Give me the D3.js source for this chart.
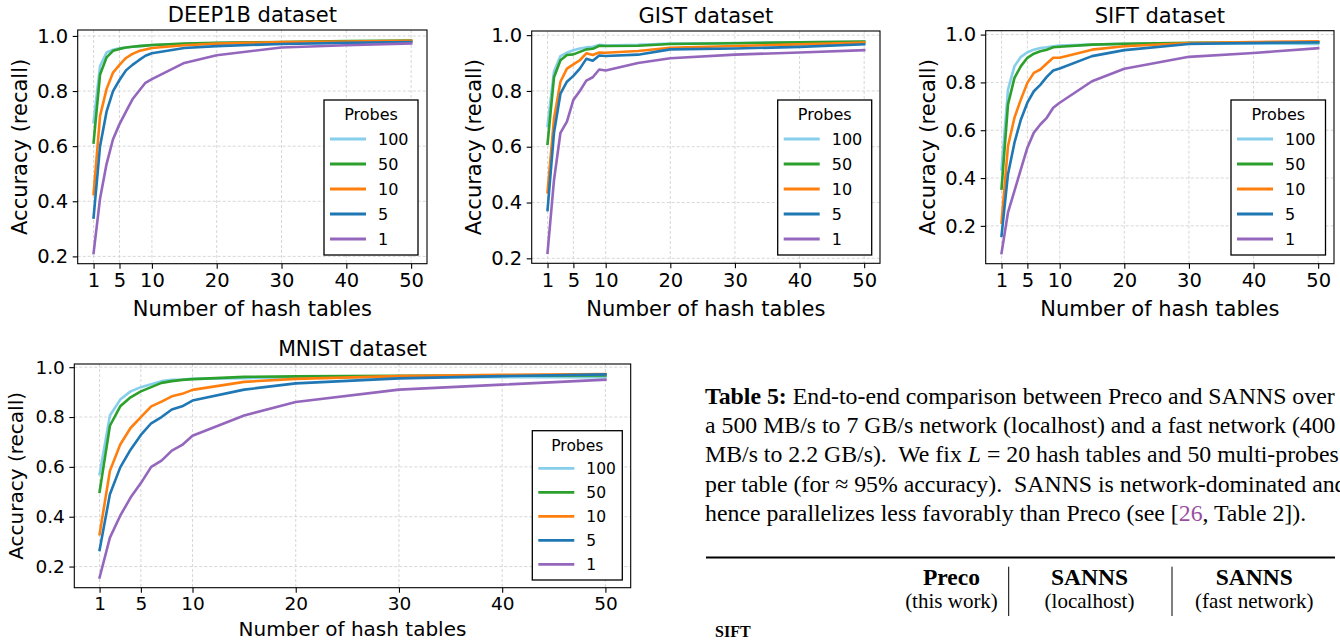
<!DOCTYPE html>
<head>
<meta charset="utf-8">
<style>
  body { margin: 0; background: #fff; }
  svg { display: block; font-family: "DejaVu Sans", sans-serif; }
  .grid line { stroke: #cdcdcd; stroke-width: 0.8; stroke-dasharray: 3,2; }
  .series { fill: none; stroke-width: 2.6; stroke-linejoin: round; stroke-linecap: square; }
  .caption { font-family: "Liberation Serif", "Times New Roman", serif; fill: #000; }
</style>
</head>
<body>
<svg width="1340" height="640"></svg>
<script src="https://d3js.org/d3.v7.min.js"></script>
<script>
// x positions shared by every curve
var hashTables = [1, 2, 3, 4, 5, 6, 7, 8, 9, 10, 15, 20, 30, 40, 50];
var xTicks = [1, 5, 10, 20, 30, 40, 50];
var yTicks = [0.2, 0.4, 0.6, 0.8, 1.0];
var probeLabels = ["100", "50", "10", "5", "1"];
var probeColors = ["#87ceeb", "#2ca02c", "#ff7f0e", "#1f77b4", "#9467bd"];

// DEEP1B
var deepP100 = [0.686, 0.891, 0.94, 0.95, 0.955, 0.958, 0.961, 0.963, 0.965, 0.967, 0.971, 0.974, 0.977, 0.979, 0.981];
var deepP50  = [0.613, 0.86, 0.922, 0.946, 0.953, 0.958, 0.961, 0.963, 0.965, 0.967, 0.972, 0.975, 0.978, 0.981, 0.983];
var deepP10  = [0.426, 0.71, 0.807, 0.867, 0.895, 0.92, 0.935, 0.945, 0.951, 0.956, 0.966, 0.972, 0.978, 0.980, 0.982];
var deepP5   = [0.341, 0.60, 0.725, 0.80, 0.84, 0.875, 0.895, 0.912, 0.928, 0.937, 0.956, 0.963, 0.971, 0.975, 0.978];
var deepP1   = [0.212, 0.41, 0.535, 0.625, 0.68, 0.725, 0.77, 0.80, 0.83, 0.843, 0.902, 0.93, 0.958, 0.966, 0.973];

// GIST
var gistP100 = [0.675, 0.87, 0.925, 0.937, 0.946, 0.952, 0.956, 0.958, 0.965, 0.963, 0.965, 0.97, 0.972, 0.974, 0.976];
var gistP50  = [0.61, 0.849, 0.91, 0.929, 0.931, 0.94, 0.949, 0.951, 0.962, 0.961, 0.962, 0.968, 0.971, 0.974, 0.977];
var gistP10  = [0.437, 0.70, 0.833, 0.88, 0.895, 0.91, 0.935, 0.929, 0.938, 0.937, 0.943, 0.955, 0.961, 0.967, 0.973];
var gistP5   = [0.373, 0.65, 0.79, 0.833, 0.854, 0.88, 0.915, 0.908, 0.927, 0.925, 0.93, 0.949, 0.952, 0.958, 0.967];
var gistP1   = [0.22, 0.48, 0.65, 0.69, 0.768, 0.80, 0.837, 0.849, 0.877, 0.873, 0.90, 0.917, 0.93, 0.938, 0.946];

// SIFT
var siftP100 = [0.436, 0.77, 0.868, 0.907, 0.926, 0.937, 0.944, 0.947, 0.951, 0.954, 0.958, 0.961, 0.963, 0.962, 0.961];
var siftP50  = [0.356, 0.708, 0.819, 0.868, 0.903, 0.92, 0.93, 0.937, 0.947, 0.949, 0.958, 0.962, 0.966, 0.967, 0.968];
var siftP10  = [0.214, 0.534, 0.652, 0.729, 0.798, 0.84, 0.854, 0.879, 0.903, 0.903, 0.937, 0.951, 0.965, 0.969, 0.972];
var siftP5   = [0.158, 0.416, 0.548, 0.645, 0.715, 0.763, 0.79, 0.823, 0.85, 0.858, 0.91, 0.935, 0.961, 0.965, 0.968];
var siftP1   = [0.086, 0.256, 0.346, 0.437, 0.527, 0.59, 0.624, 0.652, 0.694, 0.715, 0.805, 0.857, 0.907, 0.923, 0.943];

// MNIST
var mnistP100 = [0.571, 0.806, 0.87, 0.903, 0.92, 0.932, 0.944, 0.949, 0.95, 0.953, 0.956, 0.958, 0.96, 0.96, 0.96];
var mnistP50  = [0.50, 0.765, 0.843, 0.879, 0.903, 0.92, 0.937, 0.944, 0.949, 0.952, 0.961, 0.963, 0.965, 0.966, 0.967];
var mnistP10  = [0.33, 0.584, 0.69, 0.756, 0.80, 0.843, 0.862, 0.883, 0.893, 0.909, 0.941, 0.953, 0.964, 0.969, 0.972];
var mnistP5   = [0.267, 0.49, 0.598, 0.669, 0.728, 0.775, 0.80, 0.83, 0.843, 0.866, 0.91, 0.935, 0.955, 0.964, 0.971];
var mnistP1   = [0.156, 0.316, 0.404, 0.477, 0.535, 0.60, 0.625, 0.665, 0.688, 0.725, 0.806, 0.86, 0.91, 0.93, 0.95];

var svg = d3.select("svg");
svg.append("rect").attr("width", 1340).attr("height", 640).attr("fill", "#fff");

var topRow = { tick: 19.5, label: 21, title: 21, legend: 16, legendStart: 39, legendGap: 25, labelGap: 45 };
var bottomRow = { tick: 18.5, label: 20, title: 20.5, legend: 15.5, legendStart: 37.6, legendGap: 24, labelGap: 41 };

var panels = [
    { title: "DEEP1B dataset", series: [deepP100, deepP50, deepP10, deepP5, deepP1],
      left: 77.7, right: 427, top: 30, bottom: 263.7, lx: 324, ly: 100, lw: 94, lh: 155, f: topRow },
    { title: "GIST dataset", series: [gistP100, gistP50, gistP10, gistP5, gistP1],
      left: 531.7, right: 880, top: 31, bottom: 263.3, lx: 777.7, ly: 100, lw: 94, lh: 155, f: topRow },
    { title: "SIFT dataset", series: [siftP100, siftP50, siftP10, siftP5, siftP1],
      left: 985.7, right: 1334, top: 30.7, bottom: 263.7, lx: 1231, ly: 100, lw: 94.5, lh: 155, f: topRow },
    { title: "MNIST dataset", series: [mnistP100, mnistP50, mnistP10, mnistP5, mnistP1],
      left: 74.3, right: 630.7, top: 364, bottom: 587.7, lx: 532.3, ly: 430.7, lw: 90, lh: 149.3, f: bottomRow }
];

panels.forEach(drawPanel);

function drawPanel(p) {
    var g = svg.append("g");
    var x = d3.scaleLinear().domain([1 - 2.45, 50 + 2.45]).range([p.left, p.right]);
    var all = d3.merge(p.series);
    var lo = d3.min(all), hi = d3.max(all), pad = (hi - lo) * 0.05;
    var y = d3.scaleLinear().domain([lo - pad, hi + pad]).range([p.bottom, p.top]);

    var grid = g.append("g").attr("class", "grid");
    grid.selectAll(".gx").data(xTicks).join("line").attr("class", "gx")
        .attr("x1", d => x(d)).attr("x2", d => x(d))
        .attr("y1", p.top).attr("y2", p.bottom);
    grid.selectAll(".gy").data(yTicks).join("line").attr("class", "gy")
        .attr("x1", p.left).attr("x2", p.right)
        .attr("y1", d => y(d)).attr("y2", d => y(d));

    var line = d3.line()
        .x((d, i) => x(hashTables[i]))
        .y(d => y(d));

    g.selectAll("path.series").data(p.series).join("path")
        .attr("class", "series")
        .attr("stroke", (d, i) => probeColors[i])
        .attr("d", line);

    g.append("rect")
        .attr("x", p.left).attr("y", p.top)
        .attr("width", p.right - p.left).attr("height", p.bottom - p.top)
        .attr("fill", "none").attr("stroke", "#000").attr("stroke-width", 1.1);

    var xa = g.append("g")
        .attr("transform", "translate(0," + p.bottom + ")")
        .call(d3.axisBottom(x).tickValues(xTicks).tickSize(5).tickPadding(4.5).tickFormat(d3.format("d")));
    var ya = g.append("g")
        .attr("transform", "translate(" + p.left + ",0)")
        .call(d3.axisLeft(y).tickValues(yTicks).tickSize(5).tickPadding(4.5).tickFormat(d3.format(".1f")));
    [xa, ya].forEach(function(a) {
        a.attr("font-family", "DejaVu Sans").attr("font-size", p.f.tick);
        a.select(".domain").remove();
        a.selectAll(".tick line").attr("stroke-width", 1.1);
    });

    var cx = (p.left + p.right) / 2, cy = (p.top + p.bottom) / 2;
    g.append("text").attr("x", cx).attr("y", p.top - 15).attr("dy", "0.35em")
        .attr("text-anchor", "middle").attr("font-size", p.f.title).text(p.title);
    g.append("text").attr("x", cx).attr("y", p.bottom + p.f.labelGap).attr("dy", "0.35em")
        .attr("text-anchor", "middle").attr("font-size", p.f.label).text("Number of hash tables");
    g.append("text").attr("transform", "translate(" + (p.left - 58) + "," + cy + ") rotate(-90)")
        .attr("dy", "0.35em").attr("text-anchor", "middle").attr("font-size", p.f.label)
        .text("Accuracy (recall)");

    // legend
    var lg = g.append("g").attr("transform", "translate(" + p.lx + "," + p.ly + ")");
    lg.append("rect").attr("width", p.lw).attr("height", p.lh)
        .attr("fill", "#fff").attr("stroke", "#000").attr("stroke-width", 1.3);
    lg.append("text").attr("x", p.lw / 2).attr("y", 14.5).attr("dy", "0.35em")
        .attr("text-anchor", "middle").attr("font-size", p.f.legend).text("Probes");
    var items = lg.selectAll(".item").data(probeLabels).join("g").attr("class", "item")
        .attr("transform", (d, i) => "translate(0," + (p.f.legendStart + i * p.f.legendGap) + ")");
    items.append("line").attr("x1", 6).attr("x2", 42)
        .attr("stroke", (d, i) => probeColors[i]).attr("stroke-width", 2.8);
    items.append("text").attr("x", 54).attr("dy", "0.35em")
        .attr("font-size", p.f.legend).text(d => d);
}

// caption text of the neighbouring table
var captionLines = [
    [["b", "Table 5:"], ["", " End-to-end comparison between Preco and SANNS over"]],
    [["", "a 500 MB/s to 7 GB/s network (localhost) and a fast network (400"]],
    [["", "MB/s to 2.2 GB/s).  We fix "], ["i", "L"], ["", " = 20 hash tables and 50 multi-probes"]],
    [["", "per table (for \u2248 95% accuracy).  SANNS is network-dominated and"]],
    [["", "hence parallelizes less favorably than Preco (see ["], ["c", "26"], ["", ", Table 2])."]]
];

var cap = svg.append("g").attr("class", "caption").attr("font-size", 23.8);
captionLines.forEach(function(parts, i) {
    var t = cap.append("text").attr("x", 705).attr("y", 404 + i * 29.2).attr("xml:space", "preserve");
    parts.forEach(function(pt) {
        var s = t.append("tspan").text(pt[1]);
        if (pt[0] === "b") s.attr("font-weight", "bold");
        if (pt[0] === "i") s.attr("font-style", "italic");
        if (pt[0] === "c") s.attr("fill", "#9a4fa0");
    });
});

var tbl = svg.append("g").attr("class", "caption");
tbl.append("line").attr("x1", 706).attr("x2", 1335).attr("y1", 557.5).attr("y2", 557.5)
    .attr("stroke", "#000").attr("stroke-width", 2);
[1008.7, 1172].forEach(function(vx) {
    tbl.append("line").attr("x1", vx).attr("x2", vx).attr("y1", 566.7).attr("y2", 616)
        .attr("stroke", "#000").attr("stroke-width", 1);
});
var heads = [["Preco", "(this work)", 951.5], ["SANNS", "(localhost)", 1089.5], ["SANNS", "(fast network)", 1254.3]];
heads.forEach(function(h) {
    tbl.append("text").attr("x", h[2]).attr("y", 585).attr("text-anchor", "middle")
        .attr("font-weight", "bold").attr("font-size", 23.5).text(h[0]);
    tbl.append("text").attr("x", h[2]).attr("y", 607.5).attr("text-anchor", "middle")
        .attr("font-size", 21).text(h[1]);
});
tbl.append("text").attr("x", 715).attr("y", 637).attr("font-weight", "bold")
    .attr("font-size", 16).text("SIFT");
</script>
</body>
